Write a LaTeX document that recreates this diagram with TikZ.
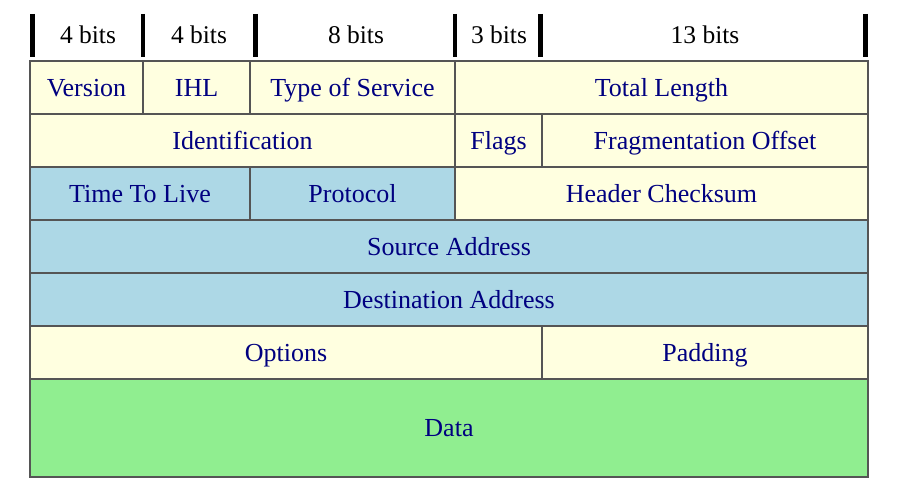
\documentclass[tikz,border=0pt]{standalone}
\usepackage{fontspec}
\setmainfont{Liberation Serif}
\definecolor{cyellow}{HTML}{FFFFE0}
\definecolor{cblue}{HTML}{ADD8E6}
\definecolor{cgreen}{HTML}{90EE90}
\definecolor{cnavy}{HTML}{000080}
\definecolor{cborder}{HTML}{555555}
\begin{document}
\begin{tikzpicture}[x=1pt,y=-1pt,
  cell/.style={draw=cborder, line width=1.6pt, inner sep=0pt, outer sep=0pt,
    text=cnavy, font=\fontsize{26}{30}\selectfont},
  lbl/.style={inner sep=0pt, text=cnavy, font=\fontsize{26}{30}\selectfont,
    text height=17pt, text depth=0pt},
  hdr/.style={inner sep=0pt, font=\fontsize{25.5}{30}\selectfont, text=black,
    text height=17pt, text depth=0pt},
  bar/.style={line width=4.5pt, black}]
\fill[white] (0,0) rectangle (910,487);
\useasboundingbox (0,0) rectangle (910,487);
% header bars
\foreach \x in {32.5,143,255.5,455,540.5,865.5} {\draw[bar] (\x,14) -- (\x,57);}
\node[hdr] (h1) at (88,35) {4 bits};
\node[hdr] (h2) at (199,35) {4 bits};
\node[hdr] (h3) at (356,35) {8 bits};
\node[hdr] (h4) at (499,35) {3 bits};
\node[hdr] (h5) at (705,35) {13 bits};
% row 1
\node[cell, fill=cyellow, minimum width=113pt, minimum height=53pt] (ver) at (86.5,87.5) {};
\node[cell, fill=cyellow, minimum width=107pt, minimum height=53pt] (ihl) at (196.5,87.5) {};
\node[cell, fill=cyellow, minimum width=205pt, minimum height=53pt] (tos) at (352.5,87.5) {};
\node[cell, fill=cyellow, minimum width=413pt, minimum height=53pt] (tl) at (661.5,87.5) {};
% row 2
\node[cell, fill=cyellow, minimum width=425pt, minimum height=53pt] (id) at (242.5,140.5) {};
\node[cell, fill=cyellow, minimum width=87pt, minimum height=53pt] (flags) at (498.5,140.5) {};
\node[cell, fill=cyellow, minimum width=326pt, minimum height=53pt] (frag) at (705,140.5) {};
% row 3
\node[cell, fill=cblue, minimum width=220pt, minimum height=53pt] (ttl) at (140,193.5) {};
\node[cell, fill=cblue, minimum width=205pt, minimum height=53pt] (proto) at (352.5,193.5) {};
\node[cell, fill=cyellow, minimum width=413pt, minimum height=53pt] (chk) at (661.5,193.5) {};
% row 4, 5
\node[cell, fill=cblue, minimum width=838pt, minimum height=53pt] (src) at (449,246.5) {};
\node[cell, fill=cblue, minimum width=838pt, minimum height=53pt] (dst) at (449,299.5) {};
% row 6
\node[cell, fill=cyellow, minimum width=512pt, minimum height=53pt] (opt) at (286,352.5) {};
\node[cell, fill=cyellow, minimum width=326pt, minimum height=53pt] (pad) at (705,352.5) {};
% data
\node[cell, fill=cgreen, minimum width=838pt, minimum height=98pt] (data) at (449,428) {};
% labels
\foreach \n/\t in {ver/Version, ihl/IHL, tos/Type of Service, tl/Total Length,
  id/Identification, flags/Flags, frag/Fragmentation Offset,
  ttl/Time To Live, proto/Protocol, chk/Header Checksum,
  src/Source Address, dst/Destination Address, opt/Options, pad/Padding, data/Data}
  {\node[lbl] (\n-t) at (\n.center) {\t};}
\end{tikzpicture}
\end{document}
